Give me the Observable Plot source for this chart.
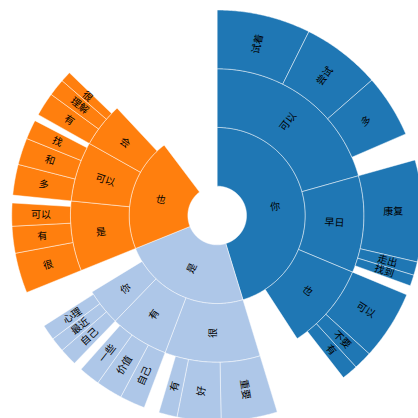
<!DOCTYPE html>
<html>
<head>
<meta charset="utf-8">
<script src="https://cdn.jsdelivr.net/npm/d3@7"></script>
<script src="https://cdn.jsdelivr.net/npm/@observablehq/plot@0.6"></script>
<style>
  html, body { margin: 0; padding: 0; background: #ffffff; }
  #chart svg { display: block; }
</style>
</head>
<body>
<div id="chart"></div>
<script>
// ---- data (angular sizes in degrees) ----
const level1Labels = ["你", "是", "也"];
const level1Values = [163, 85, 75];

const level2Parent = [0, 0, 0, 1, 1, 1, 2, 2, 2];
const level2Labels = ["可以", "早日", "也", "很", "有", "你", "是", "可以", "会"];
const level2Values = [74.3, 38.4, 34.3, 37.8, 23.2, 14.6, 27.7, 23.7, 17.6];

const level3Parent = [0,0,0, 1,1,1, 2,2,2, 3,3,3, 4,4,4, 5,5,5, 6,6,6, 7,7,7, 8,8,8];
const level3Labels = ["试着","尝试","多", "康复","走出","找到", "可以","不要","有",
                      "重要","好","有", "自己","价值","一些", "自己","最近","心理",
                      "很","有","可以", "多","和","找", "有","理解","很"];
const level3Values = [26.5,22.3,17.8, 28.8,3.8,3.1, 19.6,5.2,4.6,
                      15.9,12.4,5.2, 7.2,7.5,6.0, 5.0,4.1,4.4,
                      11.4,7.6,6.5, 8.7,7.6,5.5, 6.7,4.9,3.0];

const rootColors = ["#1f77b4", "#aec7e8", "#ff7f0e"];

// ---- layout (partition-like, clockwise from 12 o'clock) ----
const segs = [];
let acc = 0;
level1Labels.forEach((lab, i) => {
  segs.push({id: "1-" + i, depth: 1, label: lab, root: level1Labels[i], a0: acc, a1: acc + level1Values[i]});
  acc += level1Values[i];
});
const l1 = segs.slice();
const l2 = [];
const cursor2 = l1.map(s => s.a0);
level2Labels.forEach((lab, i) => {
  const p = level2Parent[i];
  const s = {id: "2-" + i, depth: 2, label: lab, root: l1[p].root, a0: cursor2[p], a1: cursor2[p] + level2Values[i]};
  cursor2[p] = s.a1;
  l2.push(s); segs.push(s);
});
const cursor3 = l2.map(s => s.a0);
level3Labels.forEach((lab, i) => {
  const p = level3Parent[i];
  const s = {id: "3-" + i, depth: 3, label: lab, root: l2[p].root, a0: cursor3[p], a1: cursor3[p] + level3Values[i]};
  cursor3[p] = s.a1;
  segs.push(s);
});

// ring radius in ring-width units: inner edge of depth d at d - 0.5
const rad = d => d - 0.5;
const toRad = a => a * Math.PI / 180;

const pts = [];
segs.forEach(s => {
  const r0 = rad(s.depth), r1 = rad(s.depth + 1);
  const n = Math.max(2, Math.ceil((s.a1 - s.a0) / 0.5));
  const ring = [];
  for (let k = 0; k <= n; k++) {
    const a = toRad(s.a0 + (s.a1 - s.a0) * k / n);
    ring.push({x: r1 * Math.sin(a), y: r1 * Math.cos(a)});
  }
  for (let k = n; k >= 0; k--) {
    const a = toRad(s.a0 + (s.a1 - s.a0) * k / n);
    ring.push({x: r0 * Math.sin(a), y: r0 * Math.cos(a)});
  }
  ring.push(ring[0]);
  ring.forEach(p => pts.push({...p, id: s.id, root: s.root}));
});

const labels = segs.map(s => {
  const m = (s.a0 + s.a1) / 2;
  const r = (rad(s.depth) + rad(s.depth + 1)) / 2;
  return {
    x: r * Math.sin(toRad(m)),
    y: r * Math.cos(toRad(m)),
    text: s.label,
    rot: m < 180 ? m - 90 : m - 270
  };
});

const W = 418, H = 418;
const cx = 216.7, cy = 215, unit = 58.7;

const chart = Plot.plot({
  width: W,
  height: H,
  margin: 0,
  style: {background: "#ffffff"},
  x: {domain: [-cx / unit, (W - cx) / unit], axis: null},
  y: {domain: [-(H - cy) / unit, cy / unit], axis: null},
  color: {domain: level1Labels, range: rootColors},
  marks: [
    Plot.line(pts, {x: "x", y: "y", z: "id", fill: "root", stroke: "white",
                    strokeWidth: 0.8, strokeOpacity: 0.6, curve: "linear"}),
    Plot.text(labels, {x: "x", y: "y", text: "text", rotate: "rot",
                       fontSize: 10, fontFamily: "Noto Sans CJK SC", fill: "#000"})
  ]
});
document.getElementById("chart").appendChild(chart);
</script>
</body>
</html>
